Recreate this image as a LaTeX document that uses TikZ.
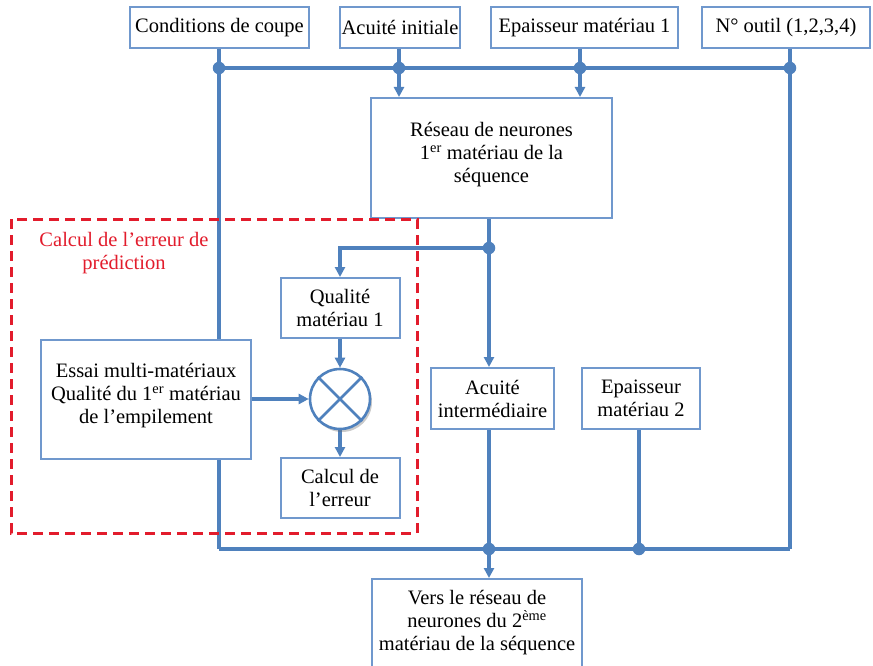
\documentclass[tikz,border=0pt]{standalone}
\usepackage{fontspec}
\setmainfont{Liberation Serif}
\usetikzlibrary{arrows.meta,shadows,backgrounds}
\definecolor{lineblue}{RGB}{79,129,189}
\definecolor{boxblue}{RGB}{112,152,205}
\definecolor{dashred}{RGB}{226,28,44}
\begin{document}
\begin{tikzpicture}[x=1pt,y=-1pt,
  box/.style={draw=boxblue, line width=2pt, fill=white, align=center, inner sep=2pt,
              font=\fontsize{20.5}{23}\selectfont},
  conn/.style={draw=lineblue, line width=3.4pt},
  arr/.style={conn, -{Triangle[length=10pt,width=10pt]}},
  dotpt/.style={circle, fill=lineblue, inner sep=0pt, minimum size=12.5pt},
]
\useasboundingbox (0,0) rectangle (873,666);
\clip (0,0) rectangle (873,666);

% boxes
\node[box, minimum width=179pt, minimum height=41pt] (cond) at (219.5,27.5) {Conditions de coupe};
\node[box, minimum width=120pt, minimum height=41pt] (acu) at (400,27.5) {Acuité initiale};
\node[box, minimum width=187pt, minimum height=41pt] (ep1) at (584.5,27.5) {Epaisseur matériau 1};
\node[box, minimum width=168pt, minimum height=41pt] (outil) at (786,27.5) {N° outil (1,2,3,4)};
\node[box, minimum width=241pt, minimum height=120pt] (res) at (491.5,158) {Réseau de neurones\\1\textsuperscript{er} matériau de la\\séquence\\[-12pt]\mbox{}};
\node[box, minimum width=119pt, minimum height=60pt] (qual) at (340,308) {Qualité\\matériau 1};
\node[circle, draw=lineblue, line width=2.6pt, fill=white, minimum size=60pt, inner sep=0pt,
      drop shadow={shadow xshift=2pt, shadow yshift=-3pt, opacity=0.35, fill=black!60}] (circ) at (340,399) {};
\node[box, minimum width=210pt, minimum height=119pt] (essai) at (146,399) {Essai multi-matériaux\\Qualité du 1\textsuperscript{er} matériau\\de l’empilement\\[-12pt]\mbox{}};
\node[box, minimum width=119pt, minimum height=60pt] (calc) at (340,488) {Calcul de\\l’erreur};
\node[box, minimum width=123pt, minimum height=61pt] (acuint) at (492.5,398.5) {Acuité\\intermédiaire};
\node[box, minimum width=118pt, minimum height=61pt] (ep2) at (641,398.5) {Epaisseur\\matériau 2};
\node[box, minimum width=210pt, minimum height=88pt] (vers) at (477,623) {Vers le réseau de\\neurones du 2\textsuperscript{ème}\\matériau de la séquence};

% junction coordinates
\coordinate (b1) at (219,68);
\coordinate (b2) at (399,68);
\coordinate (b3) at (580,68);
\coordinate (b4) at (790,68);
\coordinate (m1) at (489,248);
\coordinate (c1) at (219,549);
\coordinate (c2) at (489,549);
\coordinate (c3) at (639,549);
\coordinate (c4) at (790,549);

\begin{pgfonlayer}{background}
\draw[conn] (cond.south -| b1) -- (c1);
\draw[conn] (b1) -- (b4);
\draw[conn] (acu.south -| b2) -- (b2);
\draw[arr] (b2) -- (b2 |- res.north);
\draw[conn] (ep1.south -| b3) -- (b3);
\draw[arr] (b3) -- (b3 |- res.north);
\draw[conn] (outil.south -| b4) -- (c4);
\draw[conn] (c1) -- (c4);
\draw[conn] (res.south -| m1) -- (m1);
\draw[arr] (m1) -- (m1 |- acuint.north);
\draw[arr] (m1) -| (qual.north);
\draw[arr] (qual.south) -- (circ.north);
\draw[arr] (essai.east) -- (circ.west);
\draw[arr] (circ.south) -- (calc.north);
\draw[conn] (acuint.south -| c2) -- (c2);
\draw[conn] (ep2.south -| c3) -- (c3);
\draw[arr] (c2) -- (c2 |- vers.north);
\end{pgfonlayer}

% cross in summing junction
\draw[lineblue, line width=2.6pt] (circ.north east) -- (circ.south west)
                                  (circ.north west) -- (circ.south east);

% dots
\node[dotpt] (d1) at (b1) {};
\node[dotpt] (d2) at (b2) {};
\node[dotpt] (d3) at (b3) {};
\node[dotpt] (d4) at (b4) {};
\node[dotpt] (d5) at (m1) {};
\node[dotpt] (d6) at (c2) {};
\node[dotpt] (d7) at (c3) {};

% prediction error group
\draw[dashred, line width=3pt, dash pattern=on 10pt off 6pt] (11,219) rectangle (417,533);
\node[text=dashred, align=center, font=\fontsize{20.5}{23}\selectfont] (errlabel) at (124,253.5)
  {Calcul de l’erreur de\\prédiction};
\end{tikzpicture}
\end{document}
